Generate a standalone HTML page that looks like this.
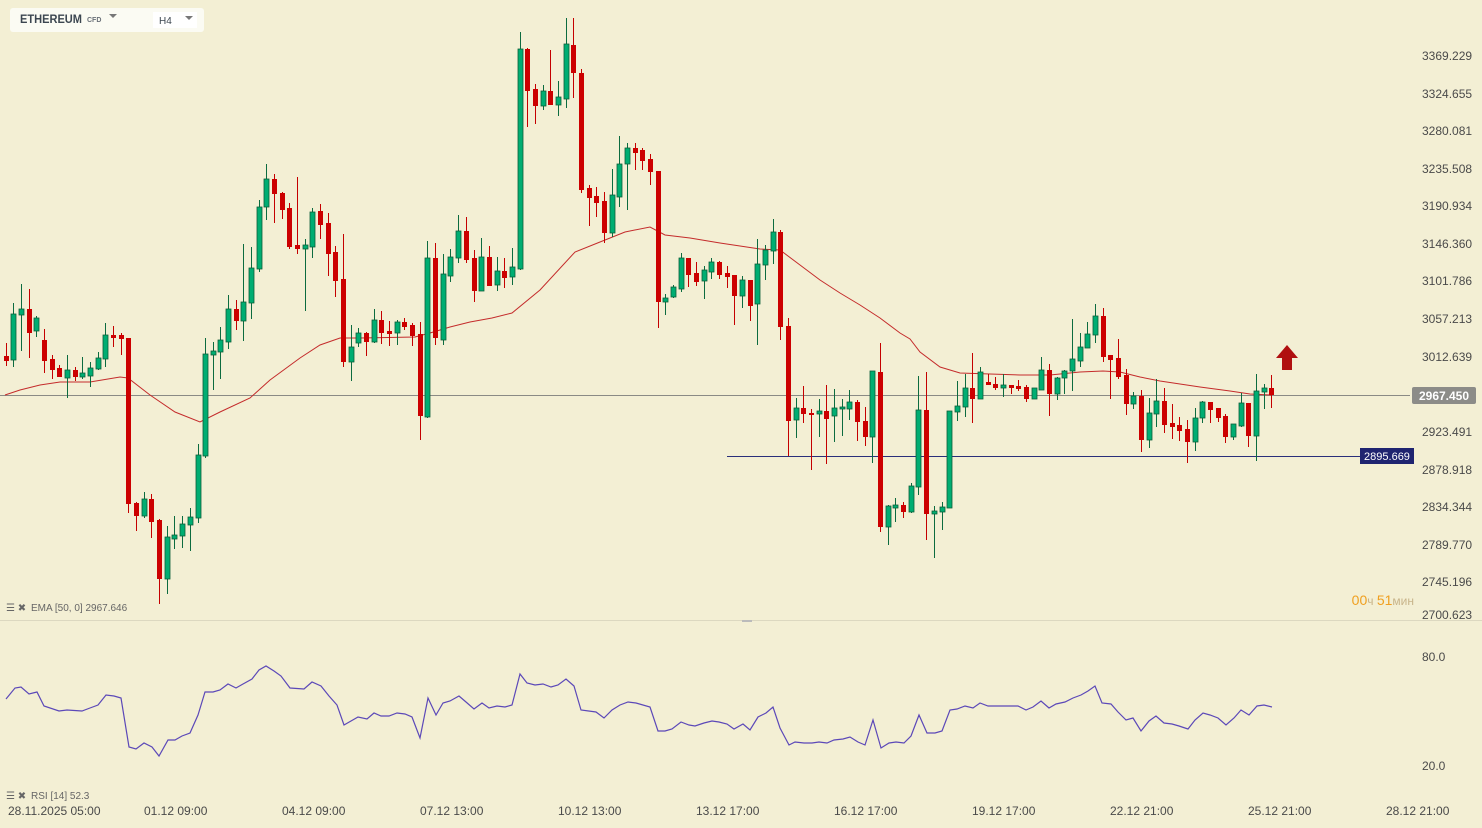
<!DOCTYPE html>
<html><head><meta charset="utf-8"><style>
html,body{margin:0;padding:0;background:#f3efd4;}
svg{display:block;font-family:"Liberation Sans",sans-serif;}
</style></head><body>
<svg id="s" width="1482" height="828" viewBox="0 0 1482 828" xmlns="http://www.w3.org/2000/svg">
<rect width="1482" height="828" fill="#f3efd4"/>
<line x1="0" y1="395.5" x2="1410" y2="395.5" stroke="#8a8a85" stroke-width="1"/>
<line x1="727" y1="456.5" x2="1360" y2="456.5" stroke="#2a2f7a" stroke-width="1"/>
<polyline fill="none" stroke="#c42b2b" stroke-width="1" points="5,395 20,390 40,385 60,382 90,382 120,377 128,378 150,395 175,412 200,422 220,412 250,398 270,380 300,358 320,345 340,338 360,338 415,337 430,333 450,327 470,322 492,318 512,313 540,290 575,252 600,242 625,232 650,227 665,235 690,238 720,243 760,249 780,250 800,265 820,280 840,293 860,305 880,318 900,333 910,339 920,352 940,367 960,373 990,374 1020,375 1050,375 1080,372 1103,371 1120,372 1140,377 1160,381 1200,387 1230,391 1250,394 1271,395"/>
<g id="c"></g>
<path d="M1287,345 L1298,358 L1292,358 L1292,370 L1282,370 L1282,358 L1276,358 Z" fill="#b01010"/>
<rect x="1412" y="387" width="64" height="17" rx="2" fill="#8c8c88"/>
<text x="1444" y="400" fill="#fff" font-size="12" font-weight="bold" text-anchor="middle">2967.450</text>
<rect x="1360" y="448" width="54" height="16" fill="#1f2470"/>
<text x="1387" y="460" fill="#fff" font-size="11" text-anchor="middle">2895.669</text>
<g font-size="12" fill="#4a4a4a">
<text x="1422" y="60">3369.229</text><text x="1422" y="98">3324.655</text><text x="1422" y="135">3280.081</text>
<text x="1422" y="173">3235.508</text><text x="1422" y="210">3190.934</text><text x="1422" y="248">3146.360</text>
<text x="1422" y="285">3101.786</text><text x="1422" y="323">3057.213</text><text x="1422" y="361">3012.639</text>
<text x="1422" y="436">2923.491</text><text x="1422" y="474">2878.918</text><text x="1422" y="511">2834.344</text>
<text x="1422" y="549">2789.770</text><text x="1422" y="586">2745.196</text><text x="1422" y="619">2700.623</text>
<text x="1422" y="661">80.0</text><text x="1422" y="770">20.0</text>
</g>
<text x="1414" y="605" font-size="14" fill="#f0a020" text-anchor="end">00<tspan fill="#c8b48a" font-size="12">ч </tspan>51<tspan fill="#c8b48a" font-size="12">мин</tspan></text>
<line x1="0" y1="620.5" x2="1482" y2="620.5" stroke="#dcd8c0"/>
<rect x="742" y="620" width="10" height="2" fill="#bbb"/>
<g font-size="10" fill="#666">
<text x="6" y="611">☰ ✖</text><text x="31" y="611">EMA  [50,  0]  2967.646</text>
<text x="6" y="799">☰ ✖</text><text x="31" y="799">RSI  [14]  52.3</text>
</g>
<polyline fill="none" stroke="#5b48b8" stroke-width="1.2" points="6,699 15,688 21,687 29,694 37,692 44,706 59,711 67,710 82,711 90,708 98,705 106,695 114,696 121,698 129,747 136,749 144,743 152,747 159,756 168,740 175,740 182,736 190,733 198,715 205,692 213,692 220,690 228,684 236,688 243,684 252,679 259,670 266,666 274,671 281,676 290,688 304,689 312,682 321,686 329,696 337,705 344,725 358,717 367,719 374,713 381,716 389,716 397,713 405,714 412,717 420,738 428,698 436,715 443,703 450,701 459,696 466,702 474,709 482,703 489,708 497,706 505,707 512,705 520,674 527,683 535,685 543,684 551,687 558,685 566,679 574,686 581,710 596,712 604,718 612,710 620,705 628,702 636,703 650,707 658,731 665,731 672,729 681,722 689,725 695,726 704,723 712,721 719,722 727,724 734,729 743,724 750,730 758,717 766,713 773,707 780,728 789,745 795,742 804,743 812,743 819,742 827,743 834,740 843,739 850,737 858,742 865,745 873,720 881,748 889,743 896,742 904,743 911,736 919,715 927,733 935,733 942,731 950,710 957,709 965,706 973,708 980,703 988,706 1018,706 1026,710 1033,707 1041,701 1049,708 1056,704 1065,702 1073,698 1081,695 1088,691 1095,686 1102,703 1111,704 1118,712 1126,720 1133,718 1141,731 1149,721 1156,716 1164,723 1172,724 1179,726 1188,729 1195,720 1203,713 1210,715 1218,718 1226,725 1234,718 1241,710 1249,715 1257,706 1264,705 1272,707"/>
<g font-size="12" fill="#4a4a4a">
<text x="8" y="815">28.11.2025  05:00</text><text x="144" y="815">01.12  09:00</text><text x="282" y="815">04.12  09:00</text>
<text x="420" y="815">07.12  13:00</text><text x="558" y="815">10.12  13:00</text><text x="696" y="815">13.12  17:00</text>
<text x="834" y="815">16.12  17:00</text><text x="972" y="815">19.12  17:00</text><text x="1110" y="815">22.12  21:00</text>
<text x="1248" y="815">25.12  21:00</text><text x="1386" y="815">28.12  21:00</text>
</g>
<rect x="10" y="8" width="194" height="24" rx="3" fill="#fbfbf3"/>
<rect x="153" y="12" width="44" height="16" fill="#ffffff"/>
<text x="20" y="23" font-size="12" font-weight="bold" fill="#3c4650" textLength="62" lengthAdjust="spacingAndGlyphs">ETHEREUM</text>
<text x="87" y="22" font-size="7" font-weight="bold" fill="#6a7078">CFD</text>
<path d="M109,14 L117,14 L113,18 Z" fill="#777"/>
<text x="159" y="24" font-size="10" fill="#3c4650">H4</text>
<path d="M185,16 L193,16 L189,20 Z" fill="#777"/>
</svg>
<script>
var d=[[6,0,356,361,343,366],[13,1,314,360,303,367],[21,1,309,315,284,351],[29,0,309,333,289,358],[36,1,318,331,316,337],[44,0,340,361,329,373],[52,0,359,370,355,379],[59,0,368,377,365,377],[67,1,370,378,355,398],[75,0,370,377,367,381],[82,1,373,377,357,379],[90,1,368,376,362,387],[98,1,358,369,352,370],[105,1,335,359,323,367],[113,0,335,338,326,347],[121,0,335,339,333,355],[128,0,338,504,338,513],[136,0,503,516,502,531],[144,1,499,516,492,518],[151,0,499,522,494,538],[159,0,520,579,519,604],[167,1,537,579,526,594],[174,1,535,539,516,549],[182,1,524,536,516,548],[190,1,517,525,508,551],[198,1,455,518,444,523],[205,1,354,456,338,458],[213,1,351,355,342,390],[220,1,340,352,327,379],[228,1,309,342,295,349],[236,0,309,321,300,330],[243,1,302,321,244,341],[251,1,268,303,247,319],[259,1,207,269,200,272],[266,1,179,207,164,220],[274,0,179,194,174,223],[282,0,193,210,192,219],[289,0,208,247,203,249],[297,0,245,249,177,254],[305,1,245,249,239,311],[312,1,212,247,208,258],[320,0,211,225,204,239],[328,0,223,254,213,276],[335,0,252,281,246,297],[343,0,279,362,234,367],[351,1,347,362,325,381],[358,1,333,343,328,347],[366,0,333,342,332,356],[374,1,320,342,309,343],[381,0,320,333,311,344],[389,0,331,334,321,346],[397,1,322,333,320,345],[404,0,322,327,318,330],[412,0,325,336,323,346],[420,0,334,416,322,440],[427,1,258,417,241,418],[435,0,258,338,243,345],[443,1,274,340,254,345],[450,1,257,276,249,282],[458,1,231,258,215,263],[466,0,231,260,217,263],[474,0,258,291,250,302],[481,1,257,291,238,291],[489,0,257,286,246,286],[497,1,271,285,257,291],[504,0,271,278,258,288],[512,1,267,277,248,285],[520,1,49,269,32,270],[527,0,49,91,48,127],[535,0,89,106,84,124],[543,1,91,106,85,110],[550,0,91,105,50,105],[558,1,97,105,81,116],[566,1,44,99,18,108],[573,0,45,73,18,98],[581,0,73,190,69,193],[589,0,188,198,185,226],[596,0,196,203,187,217],[604,0,201,233,192,243],[612,1,195,233,169,237],[619,1,164,197,136,207],[627,1,148,164,143,210],[635,0,148,153,143,170],[642,0,150,161,148,170],[650,0,159,172,154,185],[658,0,171,302,171,328],[665,1,298,302,294,315],[673,1,287,297,285,298],[681,1,258,289,253,292],[688,0,258,275,258,287],[696,0,273,282,262,286],[704,1,270,281,266,299],[711,1,262,272,258,279],[719,0,262,275,261,279],[727,0,273,277,266,288],[734,0,275,296,275,325],[742,1,280,296,276,308],[750,0,280,306,280,321],[757,1,264,304,239,345],[765,1,250,265,245,280],[773,1,232,251,219,264],[780,0,232,327,230,340],[788,0,326,421,318,456],[796,1,408,420,398,438],[803,0,408,414,386,423],[811,0,413,415,409,470],[819,1,411,414,399,437],[826,0,411,419,385,464],[834,1,408,416,389,442],[842,1,407,409,399,436],[849,1,402,409,390,420],[857,0,402,422,400,441],[865,0,421,437,407,446],[872,1,371,437,371,463],[880,0,372,527,343,532],[888,1,506,527,505,545],[895,1,505,508,498,522],[903,0,505,512,502,518],[911,1,486,512,483,513],[918,1,410,487,376,495],[926,0,410,514,372,540],[934,1,511,514,506,558],[942,1,507,512,502,530],[949,1,411,508,411,508],[957,1,406,412,381,421],[965,1,388,407,374,417],[972,0,388,399,353,423],[980,1,372,399,367,399],[988,0,382,385,374,385],[995,0,384,388,377,390],[1003,1,385,388,374,397],[1011,0,385,388,385,394],[1018,0,386,389,380,391],[1026,0,387,399,385,402],[1034,1,388,399,388,399],[1041,1,370,390,357,390],[1049,0,370,394,364,416],[1057,1,378,394,377,400],[1064,1,371,378,370,394],[1072,1,359,371,319,391],[1080,1,347,361,333,367],[1087,1,334,348,322,348],[1095,1,316,335,304,343],[1103,0,316,357,308,362],[1110,0,355,360,355,399],[1118,0,358,377,339,379],[1126,0,375,404,369,415],[1133,1,396,404,392,409],[1141,0,396,440,390,452],[1149,1,413,440,398,448],[1156,1,401,414,379,427],[1164,0,401,425,388,433],[1172,0,423,427,404,439],[1179,0,425,431,417,441],[1187,0,429,442,420,463],[1195,1,418,442,408,451],[1202,1,402,418,401,423],[1210,0,402,410,402,423],[1218,0,408,418,408,422],[1225,0,416,437,414,443],[1233,1,424,437,424,440],[1241,1,403,426,393,427],[1248,0,403,436,403,447],[1256,1,391,436,374,461],[1264,1,388,392,384,409],[1271,0,388,395,375,408]];
var h='';
d.forEach(function(c){
 var x=c[0], g=c[1], col=g?'#0c6b3f':'#c40000', fill=g?'#00ad72':'#cc0000';
 h+='<line x1="'+(x+0.5)+'" y1="'+c[4]+'" x2="'+(x+0.5)+'" y2="'+c[5]+'" stroke="'+col+'" stroke-width="1"/>';
 var hh=Math.max(c[3]-c[2],2);
 h+='<rect x="'+(x-2)+'" y="'+c[2]+'" width="5" height="'+hh+'" fill="'+fill+'"'+(g?' stroke="#0c5e38" stroke-width="0.8"':'')+'/>';
});
document.getElementById('c').innerHTML=h;
</script>
</body></html>
